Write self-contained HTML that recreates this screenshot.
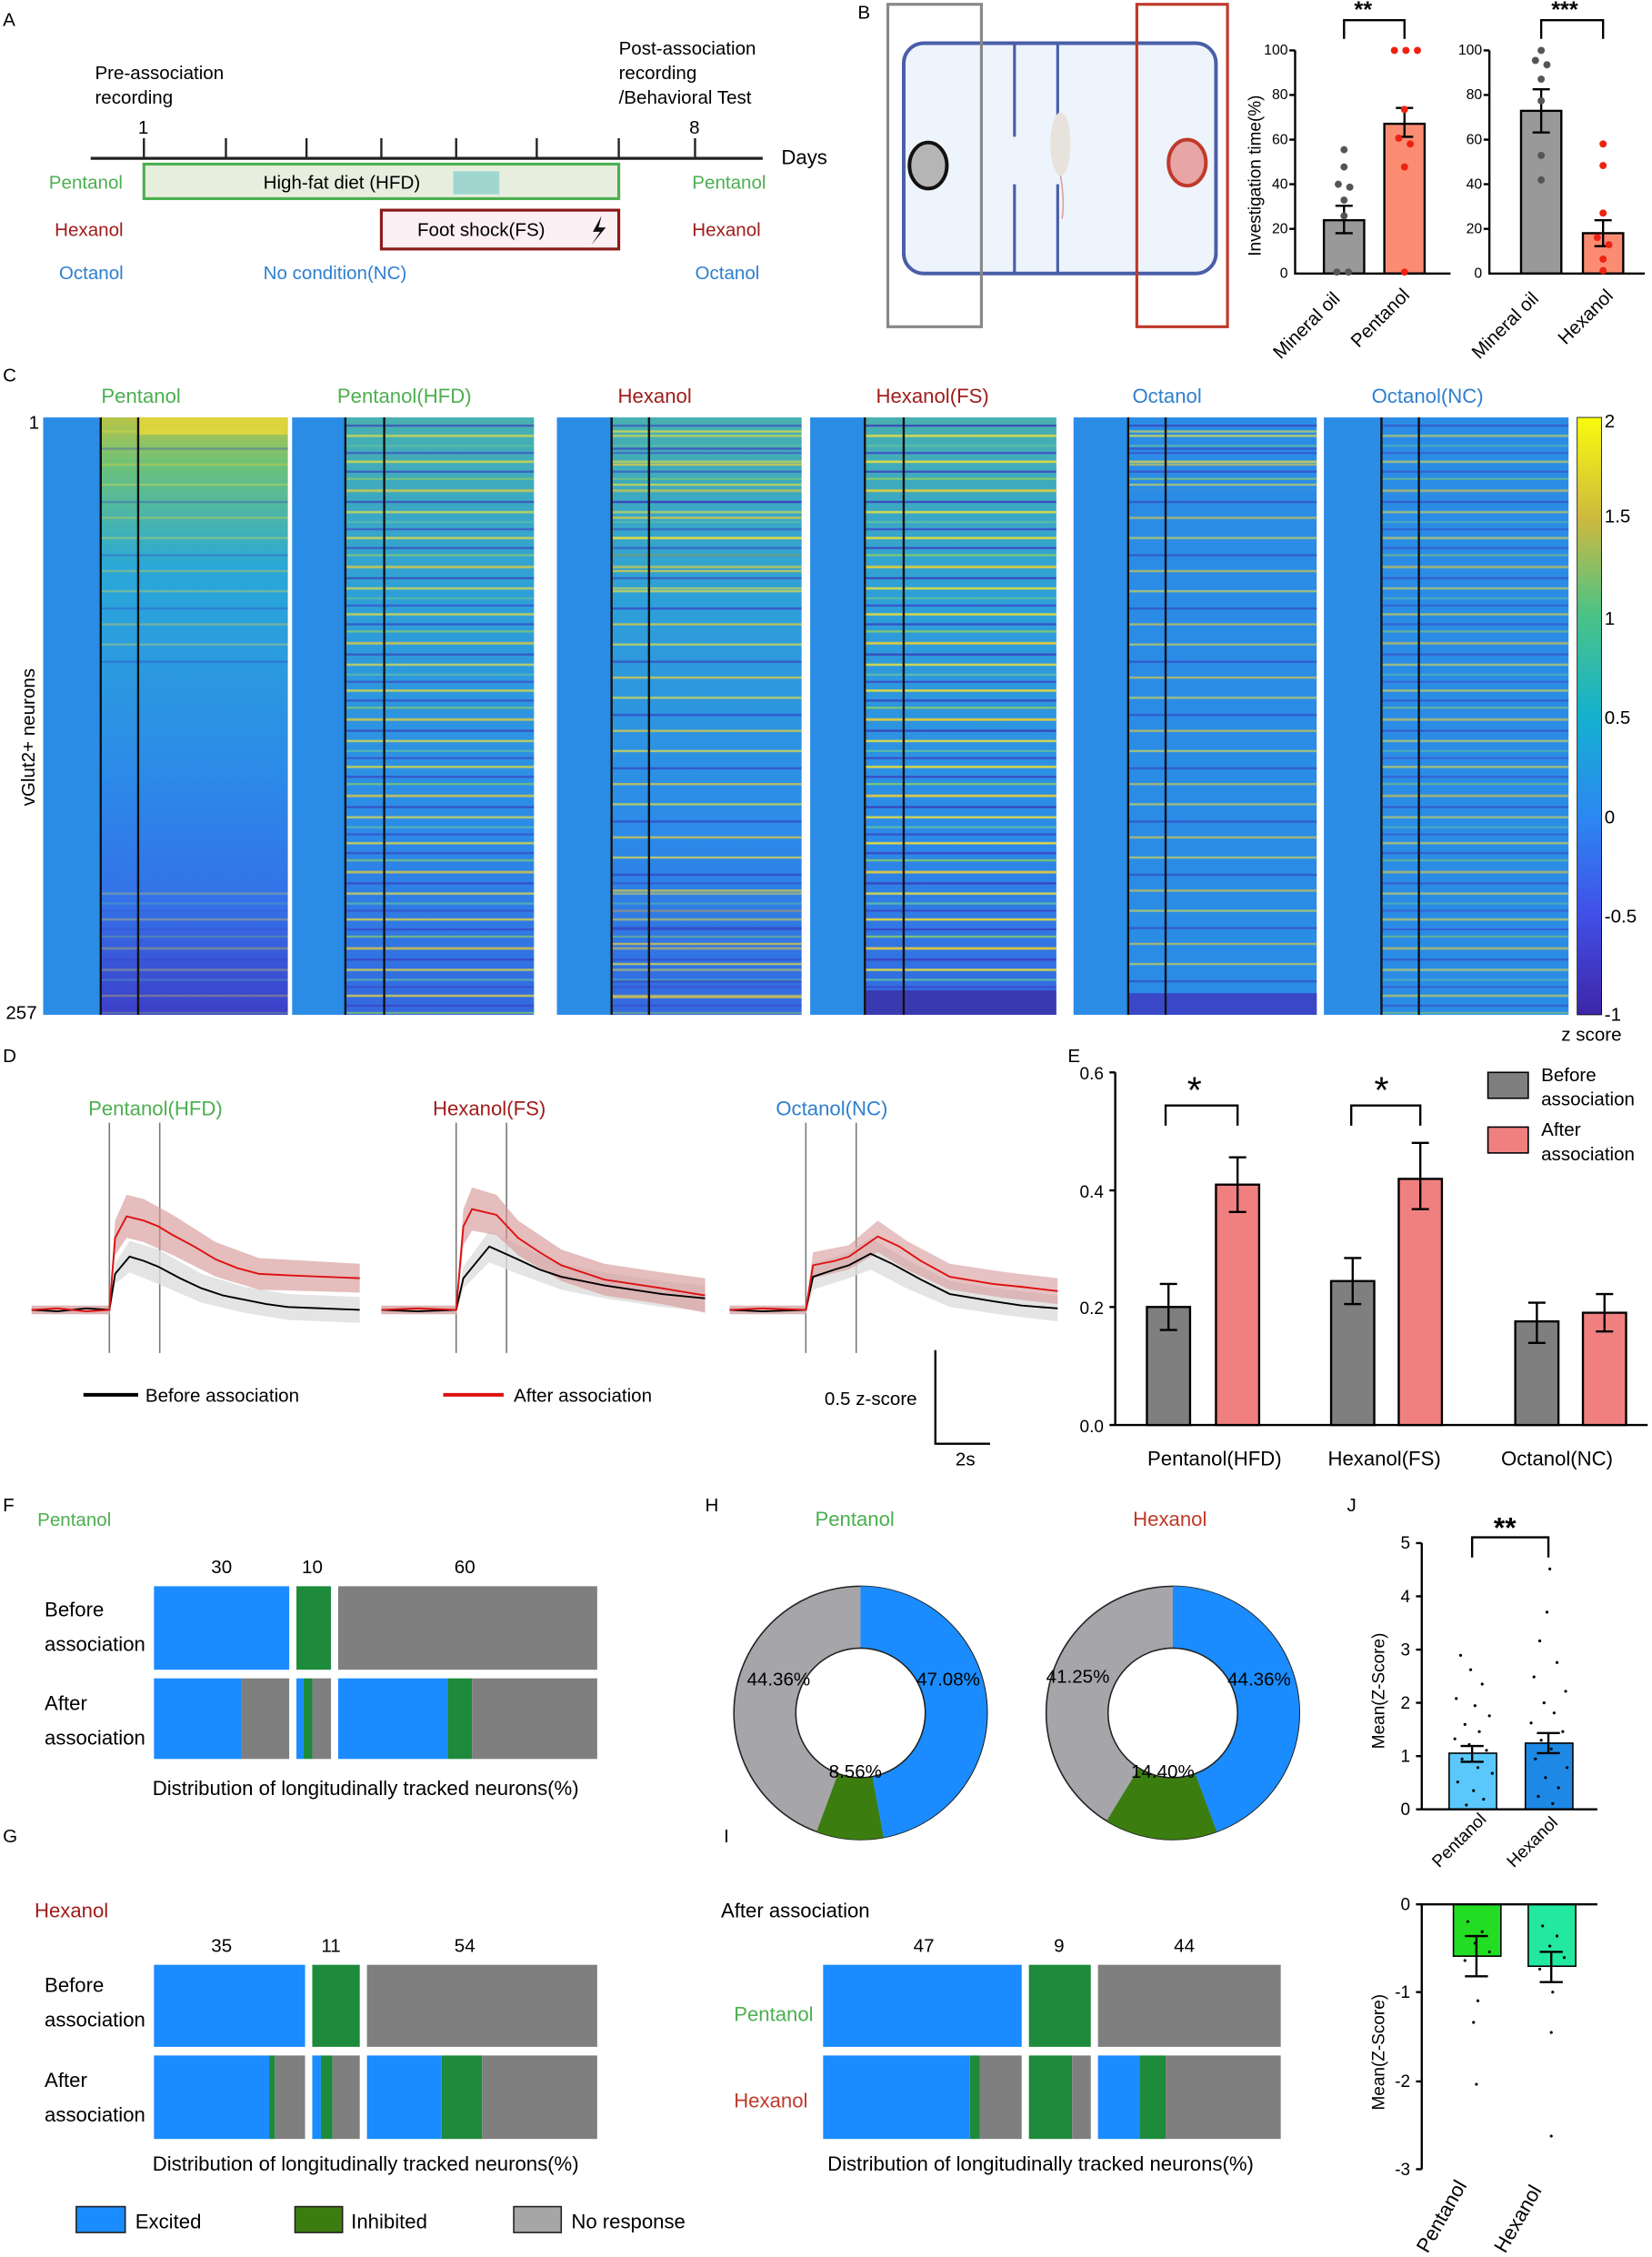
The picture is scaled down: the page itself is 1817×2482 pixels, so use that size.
<!DOCTYPE html>
<html><head><meta charset="utf-8"><style>
html,body{margin:0;padding:0;background:#fff}
svg{display:block}
text{font-family:"Liberation Sans",Arial,sans-serif}
</style></head><body>
<svg width="1817" height="2482" viewBox="0 0 1148 1568" preserveAspectRatio="none" xmlns="http://www.w3.org/2000/svg">
<defs>
<linearGradient id="par" x1="0" y1="1" x2="0" y2="0"><stop offset="0" stop-color="#3e26a8"/><stop offset="0.17" stop-color="#4150e8"/><stop offset="0.33" stop-color="#2c87f2"/><stop offset="0.5" stop-color="#14b1cf"/><stop offset="0.67" stop-color="#4bc386"/><stop offset="0.83" stop-color="#cdb93f"/><stop offset="1" stop-color="#f9fb0e"/></linearGradient>
<linearGradient id="g1" x1="0" y1="0" x2="0" y2="1"><stop offset="0" stop-color="#b8c448"/><stop offset="0.08" stop-color="#6cc27a"/><stop offset="0.25" stop-color="#2aa8d8"/><stop offset="0.6" stop-color="#2c8ae8"/><stop offset="0.82" stop-color="#3470e8"/><stop offset="1" stop-color="#3d3fc8"/></linearGradient>
<linearGradient id="g2" x1="0" y1="0" x2="0" y2="1"><stop offset="0" stop-color="#48b0b0"/><stop offset="0.3" stop-color="#2ea0d8"/><stop offset="0.7" stop-color="#2c8ae8"/><stop offset="1" stop-color="#3468e0"/></linearGradient>
<pattern id="st" width="200" height="53" patternUnits="userSpaceOnUse">
<rect y="2" width="200" height="1.6" fill="#f5e030"/>
<rect y="9" width="200" height="1.4" fill="#3a40c0"/>
<rect y="14" width="200" height="1.4" fill="#8ccf60"/>
<rect y="22" width="200" height="1.8" fill="#f0d030"/>
<rect y="30" width="200" height="1.4" fill="#3a3ab8"/>
<rect y="37" width="200" height="1.6" fill="#e8e040"/>
<rect y="44" width="200" height="1.4" fill="#60c0a0"/>
<rect y="49" width="200" height="1.4" fill="#3a48c8"/>
</pattern>
<pattern id="st2" width="200" height="37" patternUnits="userSpaceOnUse">
<rect y="3" width="200" height="1.5" fill="#e8e040"/>
<rect y="15" width="200" height="1.5" fill="#3540c0"/>
<rect y="26" width="200" height="1.5" fill="#f0d030"/>
</pattern>
</defs>
<rect width="1148" height="1568" fill="#fff"/>
<g font-size="13" fill="#000">
<!-- A -->
<text x="2" y="18">A</text>
<text x="66" y="55">Pre-association</text><text x="66" y="72">recording</text>
<text x="430" y="38">Post-association</text><text x="430" y="55">recording</text><text x="430" y="72">/Behavioral Test</text>
<text x="96" y="93">1</text><text x="479" y="93">8</text>
<text x="543" y="114" font-size="14">Days</text>
<line x1="63" y1="110" x2="530" y2="110" stroke="#222" stroke-width="2"/>
<g stroke="#222" stroke-width="1.5"><line x1="100" y1="96" x2="100" y2="110"/><line x1="157" y1="96" x2="157" y2="110"/><line x1="213" y1="96" x2="213" y2="110"/><line x1="265" y1="96" x2="265" y2="110"/><line x1="317" y1="96" x2="317" y2="110"/><line x1="373" y1="96" x2="373" y2="110"/><line x1="430" y1="96" x2="430" y2="110"/><line x1="483" y1="96" x2="483" y2="110"/></g>
<rect x="100" y="114" width="330" height="24" fill="#e7eedd" stroke="#4caf50" stroke-width="2"/>
<rect x="315" y="119" width="32" height="16" fill="#9fd6d0"/>
<text x="183" y="131">High-fat diet (HFD)</text>
<rect x="265" y="146" width="165" height="27" fill="#fcf0f4" stroke="#8b1a1a" stroke-width="2"/>
<text x="290" y="164">Foot shock(FS)</text>
<path d="M418 150 L412 161 L417 161 L411 170 L421 158 L416 158 Z" fill="#111"/>
<g fill="#4caf50"><text x="34" y="131">Pentanol</text><text x="481" y="131">Pentanol</text></g>
<g fill="#a01c1c"><text x="38" y="164">Hexanol</text><text x="481" y="164">Hexanol</text></g>
<g fill="#2f7fcf"><text x="41" y="194">Octanol</text><text x="183" y="194">No condition(NC)</text><text x="483" y="194">Octanol</text></g>
<!-- B -->
<text x="596" y="13">B</text>
<rect x="628" y="30" width="217" height="160" rx="14" fill="#eef4fb" stroke="#4a5ea8" stroke-width="2.5"/>
<g stroke="#4a5ea8" stroke-width="2"><line x1="705" y1="30" x2="705" y2="95"/><line x1="735" y1="30" x2="735" y2="95"/><line x1="705" y1="128" x2="705" y2="190"/><line x1="735" y1="128" x2="735" y2="190"/></g>
<ellipse cx="645" cy="115" rx="13" ry="16" fill="#b5b5b5" stroke="#111" stroke-width="2.5"/>
<ellipse cx="825" cy="113" rx="13" ry="16" fill="#e8a5a5" stroke="#c0392b" stroke-width="2.5"/>
<ellipse cx="737" cy="100" rx="7" ry="22" fill="#e8e2dd"/>
<path d="M737 122 Q740 140 738 152" stroke="#d9a0a0" fill="none"/>
<rect x="617" y="3" width="65" height="224" fill="none" stroke="#888" stroke-width="2"/>
<rect x="790" y="3" width="63" height="224" fill="none" stroke="#c0392b" stroke-width="2"/>
<text transform="translate(876,178) rotate(-90)" font-size="12">Investigation time(%)</text>
<g font-size="10" text-anchor="end"><text x="895" y="193">0</text><text x="895" y="162">20</text><text x="895" y="131">40</text><text x="895" y="100">60</text><text x="895" y="69">80</text><text x="895" y="38">100</text>
<text x="1030" y="193">0</text><text x="1030" y="162">20</text><text x="1030" y="131">40</text><text x="1030" y="100">60</text><text x="1030" y="69">80</text><text x="1030" y="38">100</text></g>
<rect x="920" y="153" width="28" height="37" fill="#999" stroke="#000" stroke-width="1.5"/>
<rect x="962" y="86" width="28" height="104" fill="#fb8c72" stroke="#000" stroke-width="1.5"/>
<rect x="1057" y="77" width="28" height="113" fill="#999" stroke="#000" stroke-width="1.5"/>
<rect x="1100" y="162" width="28" height="28" fill="#fb8c72" stroke="#000" stroke-width="1.5"/>
<g stroke="#000" stroke-width="1.5" fill="none">
<path d="M900 35 V190 H1008 M896 35H900M896 66H900M896 97H900M896 128H900M896 159H900"/>
<path d="M1035 35 V190 H1143 M1031 35H1035M1031 66H1035M1031 97H1035M1031 128H1035M1031 159H1035"/>
<path d="M934 143V162M928 143H940M928 162H940M976 75V95M970 75H982M970 95H982M1071 62V92M1065 62H1077M1065 92H1077M1114 153V171M1108 153H1120M1108 171H1120"/>
<path d="M934 27V14H976V27M1071 27V14H1114V27"/></g>
<text x="941" y="12" font-size="16" font-weight="bold">**</text><text x="1078" y="12" font-size="16" font-weight="bold">***</text>
<g fill="#555"><circle cx="934" cy="104" r="2.5"/><circle cx="934" cy="116" r="2.5"/><circle cx="930" cy="128" r="2.5"/><circle cx="938" cy="130" r="2.5"/><circle cx="934" cy="139" r="2.5"/><circle cx="934" cy="150" r="2.5"/><circle cx="929" cy="189" r="2.5"/><circle cx="937" cy="189" r="2.5"/><circle cx="1071" cy="35" r="2.5"/><circle cx="1067" cy="42" r="2.5"/><circle cx="1075" cy="45" r="2.5"/><circle cx="1071" cy="55" r="2.5"/><circle cx="1071" cy="70" r="2.5"/><circle cx="1071" cy="108" r="2.5"/><circle cx="1071" cy="125" r="2.5"/></g>
<g fill="#ee2211"><circle cx="969" cy="35" r="2.5"/><circle cx="977" cy="35" r="2.5"/><circle cx="985" cy="35" r="2.5"/><circle cx="976" cy="76" r="2.5"/><circle cx="972" cy="96" r="2.5"/><circle cx="980" cy="100" r="2.5"/><circle cx="976" cy="116" r="2.5"/><circle cx="976" cy="189" r="2.5"/><circle cx="1114" cy="100" r="2.5"/><circle cx="1114" cy="115" r="2.5"/><circle cx="1114" cy="148" r="2.5"/><circle cx="1110" cy="165" r="2.5"/><circle cx="1118" cy="170" r="2.5"/><circle cx="1114" cy="180" r="2.5"/><circle cx="1114" cy="188" r="2.5"/></g>
<g font-size="13"><text transform="translate(890,250) rotate(-45)">Mineral oil</text><text transform="translate(944,242) rotate(-45)">Pentanol</text><text transform="translate(1028,250) rotate(-45)">Mineral oil</text><text transform="translate(1088,240) rotate(-45)">Hexanol</text></g>
<!-- C -->
<text x="2" y="265">C</text>
<g font-size="14" text-anchor="middle"><text x="98" y="280" fill="#4caf50">Pentanol</text><text x="281" y="280" fill="#4caf50">Pentanol(HFD)</text><text x="455" y="280" fill="#a01c1c">Hexanol</text><text x="648" y="280" fill="#a01c1c">Hexanol(FS)</text><text x="811" y="280" fill="#2f7fcf">Octanol</text><text x="992" y="280" fill="#2f7fcf">Octanol(NC)</text></g>
<text x="20" y="298" font-size="13">1</text><text x="4" y="708" font-size="13">257</text>
<text transform="translate(24,560) rotate(-90)" font-size="13">vGlut2+ neurons</text>
<g>
<rect x="30" y="290" width="170" height="415" fill="#2b8ce6"/>
<rect x="70" y="290" width="130" height="415" fill="url(#g1)"/>
<rect x="70" y="290" width="130" height="180" fill="url(#st2)" opacity="0.35"/>
<rect x="70" y="620" width="130" height="85" fill="url(#st)" opacity="0.3"/>
<rect x="95" y="290" width="105" height="12" fill="#e8d838" opacity="0.8"/>

<rect x="203" y="290" width="168" height="415" fill="#2b8ce6"/>
<rect x="240" y="290" width="131" height="415" fill="url(#g2)"/>
<rect x="240" y="290" width="131" height="415" fill="url(#st)" opacity="0.7"/>

<rect x="387" y="290" width="170" height="415" fill="#2b8ce6"/>
<rect x="425" y="290" width="132" height="415" fill="url(#g2)"/>
<rect x="425" y="290" width="132" height="415" fill="url(#st2)" opacity="0.7"/>
<rect x="425" y="290" width="132" height="120" fill="url(#st)" opacity="0.6"/>
<rect x="425" y="610" width="132" height="95" fill="url(#st)" opacity="0.5"/>

<rect x="563" y="290" width="171" height="415" fill="#2b8ce6"/>
<rect x="601" y="290" width="133" height="415" fill="url(#g2)"/>
<rect x="601" y="290" width="133" height="415" fill="url(#st)" opacity="0.85"/>
<rect x="601" y="688" width="133" height="17" fill="#3a3ab0"/>

<rect x="746" y="290" width="169" height="415" fill="#2b8ce6"/>
<rect x="784" y="290" width="131" height="415" fill="url(#st2)" opacity="0.6"/>
<rect x="784" y="290" width="131" height="50" fill="url(#st)" opacity="0.7"/>
<rect x="784" y="690" width="131" height="15" fill="#3a48c8"/>

<rect x="920" y="290" width="170" height="415" fill="#2b8ce6"/>
<rect x="960" y="290" width="130" height="415" fill="url(#st)" opacity="0.55"/>

<g stroke="#111" stroke-width="1.5"><line x1="70" y1="290" x2="70" y2="705"/><line x1="96" y1="290" x2="96" y2="705"/><line x1="240" y1="290" x2="240" y2="705"/><line x1="267" y1="290" x2="267" y2="705"/><line x1="425" y1="290" x2="425" y2="705"/><line x1="451" y1="290" x2="451" y2="705"/><line x1="601" y1="290" x2="601" y2="705"/><line x1="628" y1="290" x2="628" y2="705"/><line x1="784" y1="290" x2="784" y2="705"/><line x1="810" y1="290" x2="810" y2="705"/><line x1="960" y1="290" x2="960" y2="705"/><line x1="986" y1="290" x2="986" y2="705"/></g>
</g>
<rect x="1096" y="290" width="17" height="415" fill="url(#par)" stroke="#000" stroke-width="0.5"/>
<g font-size="13"><text x="1115" y="297">2</text><text x="1115" y="363">1.5</text><text x="1115" y="434">1</text><text x="1115" y="503">0.5</text><text x="1115" y="572">0</text><text x="1115" y="641">-0.5</text><text x="1115" y="709">-1</text><text x="1085" y="723">z score</text></g>
<!-- D -->
<text x="2" y="738">D</text>
<g font-size="14" text-anchor="middle"><text x="108" y="775" fill="#4caf50">Pentanol(HFD)</text><text x="340" y="775" fill="#a01c1c">Hexanol(FS)</text><text x="578" y="775" fill="#2f7fcf">Octanol(NC)</text></g>
<g stroke="#777" stroke-width="1"><line x1="76" y1="780" x2="76" y2="940"/><line x1="111" y1="780" x2="111" y2="940"/><line x1="317" y1="780" x2="317" y2="940"/><line x1="352" y1="780" x2="352" y2="940"/><line x1="560" y1="780" x2="560" y2="940"/><line x1="595" y1="780" x2="595" y2="940"/></g>
<polygon fill="#ddd" opacity="0.8" points="22,907 76,907 80,878 90,862 110,868 140,885 170,894 200,899 250,901 250,919 200,917 170,912 140,905 110,892 90,884 80,892 76,913 22,913"/>
<polygon fill="#d79a9a" opacity="0.65" points="22,907 76,907 80,848 88,830 100,833 120,844 150,863 180,874 250,878 250,898 180,896 150,887 120,872 100,863 88,860 80,872 76,913 22,913"/>
<polyline fill="none" stroke="#000" stroke-width="1.2" points="22,910 40,911 60,909 76,910 80,885 90,873 100,876 110,880 125,888 140,895 155,900 170,903 185,906 200,908 225,909 250,910"/>
<polyline fill="none" stroke="#dd1111" stroke-width="1.2" points="22,910 40,909 60,911 76,910 80,860 88,845 100,848 110,852 120,858 135,866 150,875 165,881 180,885 200,886 225,887 250,888"/>
<polygon fill="#ddd" opacity="0.8" points="265,907 317,907 322,880 340,855 360,865 390,878 420,884 460,890 490,893 490,911 460,908 420,902 390,896 360,885 340,877 322,895 317,913 265,913"/>
<polygon fill="#d79a9a" opacity="0.65" points="265,907 317,907 322,840 328,825 345,830 360,848 390,868 420,878 460,884 490,888 490,912 460,906 420,900 390,890 360,872 345,858 328,855 322,865 317,913 265,913"/>
<polyline fill="none" stroke="#000" stroke-width="1.2" points="265,910 290,911 317,910 322,888 340,866 360,875 375,882 390,887 420,893 440,896 460,899 490,902"/>
<polyline fill="none" stroke="#dd1111" stroke-width="1.2" points="265,910 290,909 317,910 322,852 328,840 345,844 360,860 375,870 390,879 420,889 440,892 460,895 490,900"/>
<polygon fill="#ddd" opacity="0.8" points="507,907 560,907 565,878 590,870 605,860 630,875 660,890 700,896 735,900 735,918 700,914 660,908 630,895 605,882 590,888 565,896 560,913 507,913"/>
<polygon fill="#d79a9a" opacity="0.6" points="507,907 560,907 565,870 590,865 610,848 630,862 660,878 700,884 735,888 735,906 700,902 660,896 630,882 610,870 590,882 565,888 560,913 507,913"/>
<polyline fill="none" stroke="#000" stroke-width="1.2" points="507,910 530,911 560,910 565,887 580,882 590,879 605,871 620,878 640,889 660,899 690,904 710,907 735,909"/>
<polyline fill="none" stroke="#dd1111" stroke-width="1.2" points="507,910 530,909 560,910 565,879 580,876 590,873 610,859 625,866 640,876 660,887 690,892 710,894 735,897"/>
<line x1="58" y1="969" x2="96" y2="969" stroke="#000" stroke-width="2.5"/><text x="101" y="974">Before association</text>
<line x1="308" y1="969" x2="350" y2="969" stroke="#dd1111" stroke-width="2.5"/><text x="357" y="974">After association</text>
<text x="573" y="976">0.5 z-score</text>
<path d="M650 938V1003H688" stroke="#000" stroke-width="1.5" fill="none"/><text x="664" y="1018">2s</text>
<!-- E -->
<text x="742" y="738">E</text>
<g font-size="12" text-anchor="end"><text x="767" y="750">0.6</text><text x="767" y="832">0.4</text><text x="767" y="913">0.2</text><text x="767" y="995">0.0</text></g>
<path d="M775 745V990H1145M771 745H775M771 827H775M771 908H775M771 990H775" stroke="#000" stroke-width="1.5" fill="none"/>
<g stroke="#000" stroke-width="1.5"><rect x="797" y="908" width="30" height="82" fill="#7f7f7f"/><rect x="845" y="823" width="30" height="167" fill="#f08080"/><rect x="925" y="890" width="30" height="100" fill="#7f7f7f"/><rect x="972" y="819" width="30" height="171" fill="#f08080"/><rect x="1053" y="918" width="30" height="72" fill="#7f7f7f"/><rect x="1100" y="912" width="30" height="78" fill="#f08080"/></g>
<path d="M812 892V924M806 892H818M806 924H818M860 804V842M854 804H866M854 842H866M940 874V906M934 874H946M934 906H946M987 794V840M981 794H993M981 840H993M1068 905V933M1062 905H1074M1062 933H1074M1115 899V925M1109 899H1121M1109 925H1121M810 782V768H860V782M939 782V768H987V782" stroke="#000" stroke-width="1.5" fill="none"/>
<text x="825" y="766" font-size="26">*</text><text x="955" y="766" font-size="26">*</text>
<rect x="1034" y="745" width="28" height="18" fill="#7f7f7f" stroke="#000"/><text x="1071" y="751">Before</text><text x="1071" y="768">association</text>
<rect x="1034" y="783" width="28" height="18" fill="#f08080" stroke="#000"/><text x="1071" y="789">After</text><text x="1071" y="806">association</text>
<g font-size="14" text-anchor="middle"><text x="844" y="1018">Pentanol(HFD)</text><text x="962" y="1018">Hexanol(FS)</text><text x="1082" y="1018">Octanol(NC)</text></g>
<!-- F G I -->
<text x="2" y="1050">F</text><text x="26" y="1060" fill="#4caf50" font-size="13">Pentanol</text>
<g font-size="13" text-anchor="middle"><text x="154" y="1093">30</text><text x="217" y="1093">10</text><text x="323" y="1093">60</text></g>
<g font-size="14"><text x="31" y="1123">Before</text><text x="31" y="1147">association</text><text x="31" y="1188">After</text><text x="31" y="1212">association</text></g>
<rect x="107" y="1102" width="94" height="58" fill="#1a8cff"/><rect x="206" y="1102" width="24" height="58" fill="#1e8a3c"/><rect x="235" y="1102" width="180" height="58" fill="#7f7f7f"/>
<rect x="107" y="1166" width="61" height="56" fill="#1a8cff"/><rect x="168" y="1166" width="33" height="56" fill="#7f7f7f"/><rect x="206" y="1166" width="5" height="56" fill="#1a8cff"/><rect x="211" y="1166" width="6" height="56" fill="#1e8a3c"/><rect x="217" y="1166" width="13" height="56" fill="#7f7f7f"/><rect x="235" y="1166" width="76" height="56" fill="#1a8cff"/><rect x="311" y="1166" width="17" height="56" fill="#1e8a3c"/><rect x="328" y="1166" width="87" height="56" fill="#7f7f7f"/>
<text x="106" y="1247" font-size="14">Distribution of longitudinally tracked neurons(%)</text>
<text x="2" y="1280">G</text><text x="24" y="1332" fill="#a01c1c" font-size="14">Hexanol</text>
<g font-size="13" text-anchor="middle"><text x="154" y="1356">35</text><text x="230" y="1356">11</text><text x="323" y="1356">54</text></g>
<g font-size="14"><text x="31" y="1384">Before</text><text x="31" y="1408">association</text><text x="31" y="1450">After</text><text x="31" y="1474">association</text></g>
<rect x="107" y="1365" width="105" height="57" fill="#1a8cff"/><rect x="217" y="1365" width="33" height="57" fill="#1e8a3c"/><rect x="255" y="1365" width="160" height="57" fill="#7f7f7f"/>
<rect x="107" y="1428" width="80" height="58" fill="#1a8cff"/><rect x="187" y="1428" width="4" height="58" fill="#1e8a3c"/><rect x="191" y="1428" width="21" height="58" fill="#7f7f7f"/><rect x="217" y="1428" width="6" height="58" fill="#1a8cff"/><rect x="223" y="1428" width="8" height="58" fill="#1e8a3c"/><rect x="231" y="1428" width="19" height="58" fill="#7f7f7f"/><rect x="255" y="1428" width="52" height="58" fill="#1a8cff"/><rect x="307" y="1428" width="28" height="58" fill="#1e8a3c"/><rect x="335" y="1428" width="80" height="58" fill="#7f7f7f"/>
<text x="106" y="1508" font-size="14">Distribution of longitudinally tracked neurons(%)</text>
<text x="503" y="1280">I</text><text x="501" y="1332" font-size="14">After association</text>
<g font-size="13" text-anchor="middle"><text x="642" y="1356">47</text><text x="736" y="1356">9</text><text x="823" y="1356">44</text></g>
<text x="510" y="1404" fill="#4caf50" font-size="14">Pentanol</text><text x="510" y="1464" fill="#c0392b" font-size="14">Hexanol</text>
<rect x="572" y="1365" width="138" height="57" fill="#1a8cff"/><rect x="715" y="1365" width="43" height="57" fill="#1e8a3c"/><rect x="763" y="1365" width="127" height="57" fill="#7f7f7f"/>
<rect x="572" y="1428" width="102" height="58" fill="#1a8cff"/><rect x="674" y="1428" width="7" height="58" fill="#1e8a3c"/><rect x="681" y="1428" width="29" height="58" fill="#7f7f7f"/><rect x="715" y="1428" width="30" height="58" fill="#1e8a3c"/><rect x="745" y="1428" width="13" height="58" fill="#7f7f7f"/><rect x="763" y="1428" width="29" height="58" fill="#1a8cff"/><rect x="792" y="1428" width="18" height="58" fill="#1e8a3c"/><rect x="810" y="1428" width="80" height="58" fill="#7f7f7f"/>
<text x="575" y="1508" font-size="14">Distribution of longitudinally tracked neurons(%)</text>
<rect x="53" y="1533" width="34" height="18" fill="#1a8cff" stroke="#222"/><text x="94" y="1548" font-size="14">Excited</text>
<rect x="205" y="1533" width="33" height="18" fill="#3c7d10" stroke="#222"/><text x="244" y="1548" font-size="14">Inhibited</text>
<rect x="357" y="1533" width="33" height="18" fill="#a6a6a6" stroke="#222"/><text x="397" y="1548" font-size="14">No response</text>
<!-- H -->
<text x="490" y="1050">H</text>
<text x="594" y="1060" fill="#4caf50" font-size="14" text-anchor="middle">Pentanol</text>
<text x="813" y="1060" fill="#c0392b" font-size="14" text-anchor="middle">Hexanol</text>
<circle cx="598" cy="1190" r="88" fill="#a6a6aa" stroke="#222"/>
<path d="M598,1190 L598,1102 A88,88 0 0 1 614,1276.5 Z" fill="#1a8cff"/>
<path d="M598,1190 L614,1276.5 A88,88 0 0 1 567.5,1272.5 Z" fill="#3c7d10"/>
<circle cx="598" cy="1190" r="45" fill="#fff" stroke="#222"/>
<circle cx="815" cy="1190" r="88" fill="#a6a6aa" stroke="#222"/>
<path d="M815,1190 L815,1102 A88,88 0 0 1 845.5,1272.5 Z" fill="#1a8cff"/>
<path d="M815,1190 L845.5,1272.5 A88,88 0 0 1 769,1265 Z" fill="#3c7d10"/>
<circle cx="815" cy="1190" r="45" fill="#fff" stroke="#222"/>
<g font-size="13"><text x="637" y="1171">47.08%</text><text x="576" y="1235">8.56%</text><text x="519" y="1171">44.36%</text><text x="853" y="1171">44.36%</text><text x="786" y="1235">14.40%</text><text x="727" y="1169">41.25%</text></g>
<!-- J -->
<text x="936" y="1050">J</text>
<g font-size="12" text-anchor="end"><text x="980" y="1076">5</text><text x="980" y="1113">4</text><text x="980" y="1150">3</text><text x="980" y="1187">2</text><text x="980" y="1224">1</text><text x="980" y="1261">0</text>
<text x="980" y="1327">0</text><text x="980" y="1388">-1</text><text x="980" y="1450">-2</text><text x="980" y="1511">-3</text></g>
<text transform="translate(962,1215) rotate(-90)" font-size="12">Mean(Z-Score)</text>
<text transform="translate(962,1466) rotate(-90)" font-size="12">Mean(Z-Score)</text>
<rect x="1007" y="1218" width="33" height="39" fill="#5ac8fa" stroke="#000"/>
<rect x="1060" y="1211" width="33" height="46" fill="#1e88e5" stroke="#000"/>
<rect x="1010" y="1323" width="33" height="36" fill="#22dd22" stroke="#000"/>
<rect x="1062" y="1323" width="33" height="43" fill="#22e8a0" stroke="#000"/>
<path d="M988 1072V1257H1110M984 1072H988M984 1109H988M984 1146H988M984 1183H988M984 1220H988M984 1257H988 M988 1323V1507M984 1323H988M984 1384H988M984 1446H988M984 1507H988 M988 1323H1110 M1023 1082V1068H1076V1082 M1023 1213V1224M1015 1213H1031M1015 1224H1031M1076 1204V1218M1068 1204H1084M1068 1218H1084M1026 1345V1373M1018 1345H1034M1018 1373H1034M1078 1356V1377M1070 1356H1086M1070 1377H1086" stroke="#000" stroke-width="1.5" fill="none"/>
<text x="1038" y="1068" font-size="20" font-weight="bold">**</text>
<g fill="#000">
<circle cx="1015" cy="1150" r="1"/><circle cx="1022" cy="1160" r="1"/><circle cx="1030" cy="1170" r="1"/><circle cx="1012" cy="1180" r="1"/><circle cx="1025" cy="1185" r="1"/><circle cx="1035" cy="1192" r="1"/><circle cx="1018" cy="1198" r="1"/><circle cx="1028" cy="1203" r="1"/><circle cx="1011" cy="1208" r="1"/><circle cx="1021" cy="1212" r="1"/><circle cx="1033" cy="1216" r="1"/><circle cx="1016" cy="1222" r="1"/><circle cx="1027" cy="1228" r="1"/><circle cx="1037" cy="1232" r="1"/><circle cx="1013" cy="1238" r="1"/><circle cx="1024" cy="1244" r="1"/><circle cx="1031" cy="1250" r="1"/><circle cx="1019" cy="1254" r="1"/>
<circle cx="1077" cy="1090" r="1"/><circle cx="1075" cy="1120" r="1"/><circle cx="1070" cy="1140" r="1"/><circle cx="1082" cy="1155" r="1"/><circle cx="1066" cy="1165" r="1"/><circle cx="1088" cy="1175" r="1"/><circle cx="1073" cy="1183" r="1"/><circle cx="1080" cy="1190" r="1"/><circle cx="1064" cy="1197" r="1"/><circle cx="1086" cy="1203" r="1"/><circle cx="1071" cy="1209" r="1"/><circle cx="1078" cy="1215" r="1"/><circle cx="1067" cy="1222" r="1"/><circle cx="1089" cy="1228" r="1"/><circle cx="1074" cy="1235" r="1"/><circle cx="1083" cy="1242" r="1"/><circle cx="1069" cy="1248" r="1"/><circle cx="1079" cy="1253" r="1"/>
<circle cx="1020" cy="1335" r="1"/><circle cx="1030" cy="1342" r="1"/><circle cx="1025" cy="1350" r="1"/><circle cx="1035" cy="1356" r="1"/><circle cx="1018" cy="1362" r="1"/><circle cx="1027" cy="1390" r="1"/><circle cx="1024" cy="1405" r="1"/><circle cx="1026" cy="1448" r="1"/>
<circle cx="1072" cy="1338" r="1"/><circle cx="1082" cy="1345" r="1"/><circle cx="1077" cy="1352" r="1"/><circle cx="1087" cy="1360" r="1"/><circle cx="1070" cy="1368" r="1"/><circle cx="1079" cy="1384" r="1"/><circle cx="1078" cy="1412" r="1"/><circle cx="1078" cy="1484" r="1"/>
</g>
<g font-size="12"><text transform="translate(1000,1298) rotate(-45)">Pentanol</text><text transform="translate(1052,1298) rotate(-45)">Hexanol</text></g>
<g font-size="14"><text transform="translate(992,1566) rotate(-60)">Pentanol</text><text transform="translate(1046,1566) rotate(-60)">Hexanol</text></g>
</g>
</svg>
</body></html>
